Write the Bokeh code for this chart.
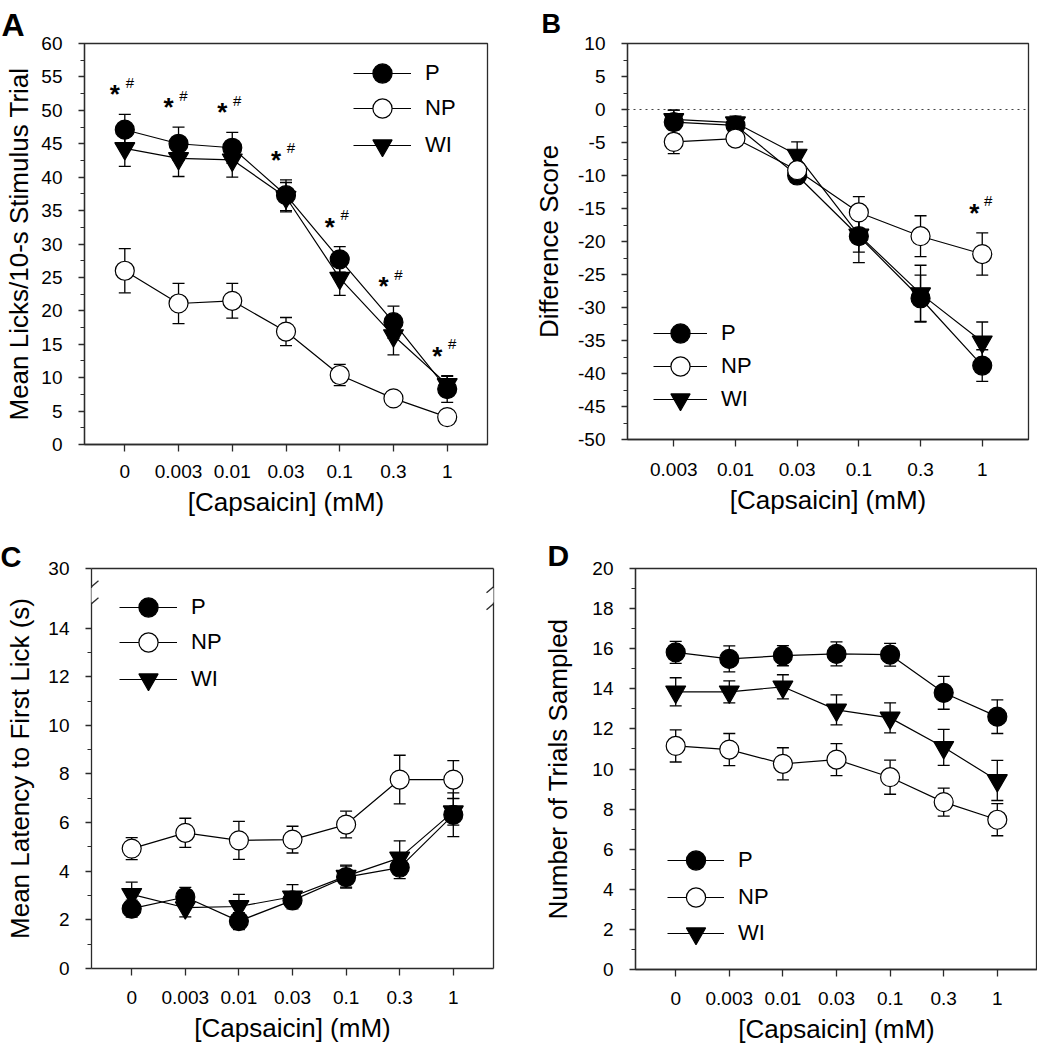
from bokeh.plotting import figure
from bokeh.models import (ColumnDataSource, FixedTicker, SingleIntervalTicker, Whisker, TeeHead,
                          Legend, LegendItem, Span, Arrow, LinearAxis, Range1d)
from bokeh.layouts import column, row
from bokeh.embed import file_html
from bokeh.resources import INLINE
from bokeh.core.properties import value

FONT = "Liberation Sans"
FRAME = "#2b2b2b"

# ---------------- data ----------------
conc_all = ["0", "0.003", "0.01", "0.03", "0.1", "0.3", "1"]
conc_diff = ["0.003", "0.01", "0.03", "0.1", "0.3", "1"]

# Panel A: mean licks / 10-s stimulus trial
a_p = [47.1, 45.0, 44.4, 37.3, 27.7, 18.3, 8.3]
a_p_err = [2.3, 2.5, 2.3, 2.3, 1.9, 2.4, 2.0]
a_np = [26.0, 21.1, 21.5, 16.9, 10.4, 6.9, 4.1]
a_np_err = [3.3, 3.0, 2.6, 2.1, 1.6, 1.0, 0.5]
a_wi = [44.3, 42.8, 42.6, 37.0, 24.9, 16.3, 9.0]
a_wi_err = [2.7, 2.7, 2.6, 2.2, 2.6, 2.9, 1.2]
a_sig = [0, 1, 2, 3, 4, 5, 6]

# Panel B: difference score
b_p = [-1.9, -2.4, -10.0, -19.2, -28.6, -38.8]
b_p_err = [1.8, 1.0, 0.8, 4.0, 3.5, 2.4]
b_np = [-4.9, -4.4, -9.2, -15.6, -19.2, -21.9]
b_np_err = [1.8, 1.0, 0.8, 2.4, 3.1, 3.2]
b_wi = [-1.5, -2.0, -6.9, -19.0, -27.9, -35.2]
b_wi_err = [1.4, 1.0, 2.0, 2.6, 4.3, 3.0]
b_sig = [5]
b_yticks = [-50, -45, -40, -35, -30, -25, -20, -15, -10, -5, 0, 5, 10]
b_ytick_labels = ["-50", "-45", "-40", "-35", "-30", "-25", "-20", "-15", "-10", "-5",
                  "0", "5", "10"]

# Panel C: mean latency to first lick (s)
c_p = [2.46, 2.94, 1.95, 2.80, 3.76, 4.15, 6.32]
c_p_err = [0.35, 0.40, 0.35, 0.30, 0.45, 0.45, 0.90]
c_np = [4.93, 5.58, 5.27, 5.30, 5.92, 7.77, 7.77]
c_np_err = [0.45, 0.60, 0.78, 0.55, 0.55, 1.00, 0.78]
c_wi = [3.05, 2.50, 2.55, 2.95, 3.80, 4.55, 6.45]
c_wi_err = [0.50, 0.38, 0.50, 0.50, 0.45, 0.70, 0.55]

# Panel D: number of trials sampled
d_p = [15.82, 15.49, 15.65, 15.74, 15.70, 13.80, 12.61]
d_p_err = [0.55, 0.65, 0.50, 0.60, 0.57, 0.82, 0.84]
d_np = [11.15, 10.97, 10.26, 10.47, 9.59, 8.35, 7.47]
d_np_err = [0.80, 0.80, 0.80, 0.80, 0.85, 0.70, 0.80]
d_wi = [13.85, 13.85, 14.10, 12.95, 12.55, 11.08, 9.43]
d_wi_err = [0.70, 0.55, 0.60, 0.75, 0.75, 0.90, 1.00]

# axis ticks
c_top_tick = 16.45
c_yticks = [0, 2, 4, 6, 8, 10, 12, 14, c_top_tick]
c_ytick_labels = ["0", "2", "4", "6", "8", "10", "12", "14", "30"]
c_yminor = [1, 3, 5, 7, 9, 11, 13]
c_break = [15.0, 15.7]

series_names = ["P", "NP", "WI"]
marker_of = {"P": "circle", "NP": "circle", "WI": "inverted_triangle"}
fill_of = {"P": "black", "NP": "white", "WI": "black"}
size_of = {"P": 19, "NP": 19, "WI": 20}


def make_panel(cats, xr, yr, fw, fh, bl, bt, bb, br, ytitle, yl_standoff,
               xl_standoff, xt_standoff):
    p = figure(frame_width=fw, frame_height=fh, min_border_left=bl, min_border_top=bt,
               min_border_bottom=bb, min_border_right=br,
               x_range=Range1d(*xr), y_range=Range1d(*yr),
               output_backend="svg", toolbar_location=None, tools="")
    p.xgrid.visible = False
    p.ygrid.visible = False
    p.outline_line_color = FRAME
    p.outline_line_width = 1.3
    p.background_fill_color = "white"
    p.border_fill_color = "white"
    xa = p.xaxis[0]
    ya = p.yaxis[0]
    xa.ticker = FixedTicker(ticks=list(range(len(cats))))
    xa.major_label_overrides = {i: c for i, c in enumerate(cats)}
    xa.major_tick_out = 7
    xa.major_tick_in = 0
    xa.major_label_standoff = xl_standoff
    xa.axis_label = "[Capsaicin] (mM)"
    xa.axis_label_standoff = xt_standoff
    ya.major_tick_out = 6
    ya.major_tick_in = 0
    ya.minor_tick_out = 4
    ya.minor_tick_in = 0
    ya.major_label_standoff = 16
    ya.axis_label = ytitle
    ya.axis_label_standoff = yl_standoff
    for ax in (xa, ya):
        ax.axis_line_color = FRAME
        ax.axis_line_width = 1.3
        ax.major_tick_line_color = FRAME
        ax.major_tick_line_width = 1.3
        ax.minor_tick_line_color = FRAME if ax is ya else None
        ax.minor_tick_line_width = 1.2
        ax.major_label_text_font = FONT
        ax.major_label_text_font_size = "19px"
        ax.major_label_text_color = "black"
        ax.axis_label_text_font = FONT
        ax.axis_label_text_font_size = "26px"
        ax.axis_label_text_font_style = "normal"
        ax.axis_label_text_color = "black"
    return p


def add_series(p, means, errs):
    lines, marks = {}, {}
    srcs = {}
    for name in series_names:
        m = means[name]
        e = errs[name]
        src = ColumnDataSource(dict(x=list(range(len(m))), y=m,
                                    up=[a + b for a, b in zip(m, e)],
                                    lo=[a - b for a, b in zip(m, e)]))
        srcs[name] = src
        p.add_layout(Whisker(source=src, base="x", upper="up", lower="lo",
                             line_color="black", line_width=1.3, level="underlay",
                             upper_head=TeeHead(size=12, line_width=1.3, line_color="black"),
                             lower_head=TeeHead(size=12, line_width=1.3, line_color="black")))
        lines[name] = p.line("x", "y", source=src, line_color="black", line_width=1.2)
    for name in ["WI", "P", "NP"]:
        marks[name] = p.scatter("x", "y", source=srcs[name], marker=marker_of[name],
                                size=size_of[name], fill_color=fill_of[name],
                                line_color="black", line_width=1.2)
    return lines, marks


def add_legend(p, lines, marks, x, ys, gw):
    # one legend box per entry so that the entries can sit closer than the glyph box
    for n, y in zip(series_names, ys):
        leg = Legend(items=[LegendItem(label=n, renderers=[lines[n], marks[n]])],
                     location=(x, y), glyph_width=gw, glyph_height=48,
                     label_standoff=14, label_text_font=FONT,
                     label_text_font_size="22px", label_text_color="black",
                     padding=0, margin=0, border_line_color=None,
                     background_fill_alpha=0, label_height=20)
        p.add_layout(leg)


def add_sig(p, means, errs, idx, dx_star, dx_hash):
    tops = [max(means[n][i] + errs[n][i] for n in series_names) for i in idx]
    src = ColumnDataSource(dict(x=idx, y=tops))
    p.text("x", "y", text=value("*"), source=src, text_font=value(FONT),
           text_font_size="26px", text_font_style="bold", text_align="center",
           text_baseline="alphabetic", x_offset=dx_star, y_offset=-20, text_color="black")
    p.text("x", "y", text=value("#"), source=src, text_font=value(FONT),
           text_font_size="15px", text_align="center",
           text_baseline="alphabetic", x_offset=dx_hash, y_offset=-32, text_color="black")


def add_letter(p, letter, offset, standoff, size, valign="bottom"):
    p.title.text = letter
    p.title.align = "left"
    p.title.offset = offset
    p.title.standoff = standoff
    p.title.vertical_align = valign
    p.title.text_font = FONT
    p.title.text_font_size = size
    p.title.text_font_style = "bold"
    p.title.text_color = "black"


# ---------------- Panel A ----------------
pa = make_panel(conc_all, (-0.75, 6.75), (0, 60), 403, 401, 84, 42, 77, 33,
                "Mean Licks/10-s Stimulus Trial", 4, 13, 6)
pa.yaxis[0].ticker = SingleIntervalTicker(interval=5, num_minor_ticks=2)
la, ma = add_series(pa, {"P": a_p, "NP": a_np, "WI": a_wi},
                    {"P": a_p_err, "NP": a_np_err, "WI": a_wi_err})
add_sig(pa, {"P": a_p, "NP": a_np, "WI": a_wi},
        {"P": a_p_err, "NP": a_np_err, "WI": a_wi_err}, a_sig, -10, 5)
add_legend(pa, la, ma, 269, [347, 312, 275], 58)
add_letter(pa, "A", -83, -3, "32px", "top")

# ---------------- Panel B ----------------
pb = make_panel(conc_diff, (-0.75, 5.75), (-50, 10), 401, 396, 107, 43, 81, 9,
                "Difference Score", 11, 16, 6)
pb.yaxis[0].ticker = SingleIntervalTicker(interval=5, num_minor_ticks=2)
pb.yaxis[0].major_label_overrides = {t: s for t, s in zip(b_yticks, b_ytick_labels)}
pb.add_layout(Span(location=0, dimension="width", line_color="#444444",
                   line_dash="2 4", line_width=1.2, level="underlay"))
lb, mb = add_series(pb, {"P": b_p, "NP": b_np, "WI": b_wi},
                    {"P": b_p_err, "NP": b_np_err, "WI": b_wi_err})
add_sig(pb, {"P": b_p, "NP": b_np, "WI": b_wi},
        {"P": b_p_err, "NP": b_np_err, "WI": b_wi_err}, b_sig, -8, 6)
add_legend(pb, lb, mb, 26, [82, 49, 16], 54)
add_letter(pb, "B", -86, 10, "27px")

# ---------------- Panel C ----------------
pc = make_panel(conc_all, (-0.75, 6.75), (0, c_top_tick), 402, 400, 91, 48, 81, 27,
                "Mean Latency to First Lick (s)", 10, 15, 6)
pc.yaxis[0].ticker = FixedTicker(ticks=c_yticks, minor_ticks=c_yminor)
pc.yaxis[0].major_label_overrides = {t: s for t, s in zip(c_yticks, c_ytick_labels)}
pc.outline_line_color = None
for place in ("right", "above"):
    ax = LinearAxis(major_tick_line_color=None, minor_tick_line_color=None,
                    major_label_text_font_size="0px", axis_line_color=FRAME,
                    axis_line_width=1.3, major_label_text_color=None)
    pc.add_layout(ax, place)
lc, mc = add_series(pc, {"P": c_p, "NP": c_np, "WI": c_wi},
                    {"P": c_p_err, "NP": c_np_err, "WI": c_wi_err})
add_legend(pc, lc, mc, 28, [337, 302, 265], 58)
add_letter(pc, "C", -91, -21, "29px")
for xe in (-0.75, 6.75):
    pc.add_layout(Arrow(end=None, x_start=xe, y_start=c_break[0] + 0.05, x_end=xe,
                        y_end=c_break[1] - 0.05, line_color="white", line_width=5))
    for yb in c_break:
        pc.add_layout(Arrow(end=None, x_start=xe - 0.13, y_start=yb - 0.25,
                            x_end=xe + 0.13, y_end=yb + 0.25,
                            line_color=FRAME, line_width=1.3))

# ---------------- Panel D ----------------
pd_ = make_panel(conc_all, (-0.75, 6.75), (0, 20), 402, 401, 115, 48, 80, 0,
                 "Number of Trials Sampled", 16, 15, 6)
pd_.yaxis[0].ticker = SingleIntervalTicker(interval=2, num_minor_ticks=2)
ld, md = add_series(pd_, {"P": d_p, "NP": d_np, "WI": d_wi},
                    {"P": d_p_err, "NP": d_np_err, "WI": d_wi_err})
add_legend(pd_, ld, md, 32, [85, 48, 12], 57)
add_letter(pd_, "D", -88, -7, "30px")

layout = column(row(pa, pb), row(pc, pd_))

open("out.html", "w").write(file_html(layout, INLINE))
